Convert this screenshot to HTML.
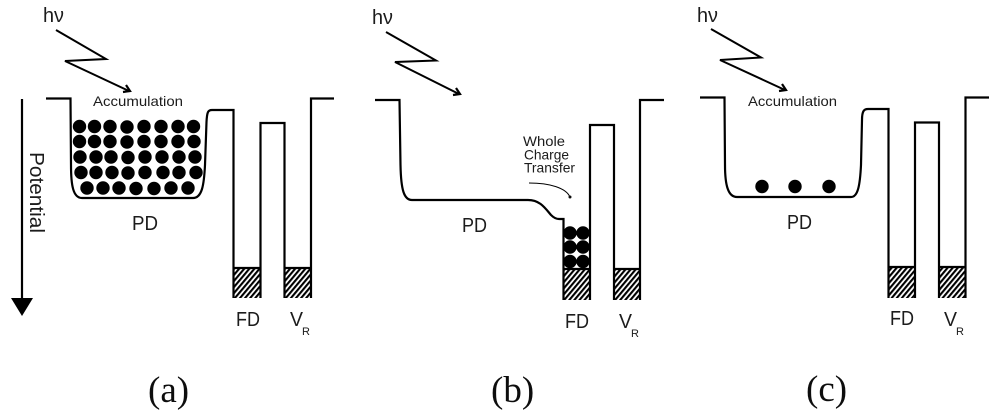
<!DOCTYPE html>
<html>
<head>
<meta charset="utf-8">
<style>
html,body{margin:0;padding:0;background:#fff;}
svg{display:block;}
text{font-family:"Liberation Sans",sans-serif;fill:#1a1a1a;}
text.s{font-family:"Liberation Serif",serif;fill:#111;font-size:37px;}
</style>
</head>
<body>
<svg width="1000" height="419" viewBox="0 0 1000 419" xmlns="http://www.w3.org/2000/svg">
<defs>
<pattern id="h" width="3.9" height="6" patternUnits="userSpaceOnUse" patternTransform="rotate(40)">
<rect width="3.9" height="6" fill="#fff"/>
<rect width="2.1" height="6" fill="#000"/>
</pattern>
<filter id="b" x="-2%" y="-2%" width="104%" height="104%"><feGaussianBlur stdDeviation="0.35"/></filter>
</defs>
<g filter="url(#b)">
<!-- Hatches -->
<rect x="234" y="268" width="26" height="30" fill="url(#h)"/>
<rect x="285" y="268" width="26" height="30" fill="url(#h)"/>
<rect x="564" y="269" width="26" height="31" fill="url(#h)"/>
<rect x="614" y="269" width="26" height="31" fill="url(#h)"/>
<rect x="889" y="267" width="26" height="31" fill="url(#h)"/>
<rect x="940" y="267" width="25" height="31" fill="url(#h)"/>

<g fill="none" stroke="#000" stroke-width="2.2">
<!-- Panel a -->
<path d="M46 98.500H70.500L71 165C71 185 73 198 82 198H193C202 198 204 185 205 165L206.500 122C207 112 208 110 212 110H233.500V298M233.500 268H260.500M260.500 298V123H284.500V298M284.500 268H311M311 298V98.500H334"/>
<path d="M56 30L106 59L65 61L129 91" stroke-width="2"/>
<path d="M123 92L130 91L126 85"/>
<path d="M22 99V300"/>
<!-- Panel b -->
<path d="M375 100H399.500L400.500 165C401 190 404 200 412 200H528C540 200 545 208 551 215C554 218 556 219 559 219H563.500V300M563.500 269H590M590 300V125H614V300M614 269H640M640 300V100H664"/>
<path d="M386 32L436 60.500L395 62L459 94" stroke-width="2"/>
<path d="M453 95L460 94L456 88"/>
<path d="M529 183C550 183 566 188 570 197" stroke-width="1"/>
<!-- Panel c -->
<path d="M700 97.500H724.500L725 165C725 185 728 197 737 197H851C858 197 860 185 861 165L862 120C862 111 864 109 868 109H888.500V298M888.500 267H915M915 298V122.500H939V298M939 267H965.500M965.500 298V97.500H989"/>
<path d="M711 29L761 57.500L720 60L785 90" stroke-width="2"/>
<path d="M779 91L786 90L782 84"/>
</g>
<polygon points="11,298 33,298 22,316" fill="#000"/>
<circle cx="570" cy="197" r="1.500" fill="#111"/>

<!-- Panel a circles -->
<g fill="#000">
<circle cx="79.500" cy="126.500" r="6.700"/><circle cx="94.500" cy="126.500" r="6.700"/><circle cx="110" cy="126.500" r="6.700"/><circle cx="127" cy="127" r="6.700"/><circle cx="144" cy="126.500" r="6.700"/><circle cx="161" cy="126.500" r="6.700"/><circle cx="178" cy="126.500" r="6.700"/><circle cx="193.500" cy="126.500" r="6.700"/>
<circle cx="79.500" cy="141.500" r="6.700"/><circle cx="94.500" cy="141.500" r="6.700"/><circle cx="110" cy="141.500" r="6.700"/><circle cx="127" cy="142" r="6.700"/><circle cx="144" cy="141.500" r="6.700"/><circle cx="161" cy="141.500" r="6.700"/><circle cx="178" cy="141.500" r="6.700"/><circle cx="194" cy="141.500" r="6.700"/>
<circle cx="80" cy="157" r="6.700"/><circle cx="96" cy="157" r="6.700"/><circle cx="111" cy="157" r="6.700"/><circle cx="128" cy="157.500" r="6.700"/><circle cx="145" cy="157" r="6.700"/><circle cx="162" cy="157" r="6.700"/><circle cx="179" cy="157" r="6.700"/><circle cx="195" cy="157" r="6.700"/>
<circle cx="81" cy="172.500" r="6.700"/><circle cx="96" cy="172.500" r="6.700"/><circle cx="112" cy="172.500" r="6.700"/><circle cx="128" cy="173" r="6.700"/><circle cx="145" cy="172.500" r="6.700"/><circle cx="163" cy="172.500" r="6.700"/><circle cx="179" cy="172.500" r="6.700"/><circle cx="196" cy="172.500" r="6.700"/>
<circle cx="87" cy="188" r="6.700"/><circle cx="103" cy="188" r="6.700"/><circle cx="119" cy="188" r="6.700"/><circle cx="136" cy="188.500" r="6.700"/><circle cx="154" cy="188.500" r="6.700"/><circle cx="171" cy="188" r="6.700"/><circle cx="188" cy="188" r="6.700"/>
<!-- Panel b circles -->
<circle cx="570" cy="233" r="6.700"/><circle cx="583" cy="233" r="6.700"/>
<circle cx="570" cy="247" r="6.700"/><circle cx="583" cy="247" r="6.700"/>
<circle cx="570" cy="261.500" r="6.700"/><circle cx="583" cy="261.500" r="6.700"/>
<!-- Panel c circles -->
<circle cx="762" cy="186.500" r="6.700"/><circle cx="795" cy="186.500" r="6.700"/><circle cx="829" cy="186.500" r="6.700"/>
</g>

<!-- Text -->
<text x="43" y="22" font-size="20" textLength="21" lengthAdjust="spacingAndGlyphs">hν</text>
<text x="372" y="24" font-size="20" textLength="21" lengthAdjust="spacingAndGlyphs">hν</text>
<text x="697" y="22" font-size="20" textLength="21" lengthAdjust="spacingAndGlyphs">hν</text>

<text x="93" y="106" font-size="14" textLength="90" lengthAdjust="spacingAndGlyphs">Accumulation</text>
<text x="748" y="106" font-size="14" textLength="89" lengthAdjust="spacingAndGlyphs">Accumulation</text>

<text x="523" y="146" font-size="14" textLength="42" lengthAdjust="spacingAndGlyphs">Whole</text>
<text x="524" y="159.500" font-size="14" textLength="45" lengthAdjust="spacingAndGlyphs">Charge</text>
<text x="524" y="172.500" font-size="14" textLength="51" lengthAdjust="spacingAndGlyphs">Transfer</text>

<text transform="translate(30,152) rotate(90)" font-size="20" textLength="81" lengthAdjust="spacingAndGlyphs">Potential</text>

<text x="132" y="230" font-size="20" textLength="26" lengthAdjust="spacingAndGlyphs">PD</text>
<text x="462" y="232" font-size="20" textLength="25" lengthAdjust="spacingAndGlyphs">PD</text>
<text x="787" y="229" font-size="20" textLength="25" lengthAdjust="spacingAndGlyphs">PD</text>

<text x="236" y="326" font-size="20" textLength="24" lengthAdjust="spacingAndGlyphs">FD</text>
<text x="290" y="326" font-size="20" textLength="13" lengthAdjust="spacingAndGlyphs">V</text>
<text x="302" y="335" font-size="11">R</text>

<text x="565" y="328" font-size="20" textLength="24" lengthAdjust="spacingAndGlyphs">FD</text>
<text x="619" y="328" font-size="20" textLength="13" lengthAdjust="spacingAndGlyphs">V</text>
<text x="631" y="337" font-size="11">R</text>

<text x="890" y="325" font-size="20" textLength="24" lengthAdjust="spacingAndGlyphs">FD</text>
<text x="944" y="326" font-size="20" textLength="13" lengthAdjust="spacingAndGlyphs">V</text>
<text x="956" y="335" font-size="11">R</text>

<text class="s" x="148" y="402">(a)</text>
<text class="s" x="491" y="402">(b)</text>
<text class="s" x="806" y="401">(c)</text>
</g>
</svg>
</body>
</html>
